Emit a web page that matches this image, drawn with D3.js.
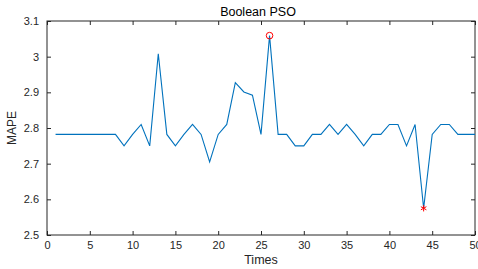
<!DOCTYPE html>
<html>
<head>
<meta charset="utf-8">
<script src="https://cdn.jsdelivr.net/npm/d3@7"></script>
<style>
  body { margin: 0; background: #fff; }
  svg { display: block; font-family: "Liberation Sans", Arial, sans-serif; }
</style>
</head>
<body>
<svg id="chart"></svg>
<script>
// data
const times = d3.range(1, 51)
const mape = [
  2.782, 2.782, 2.782, 2.782, 2.782, 2.782, 2.782, 2.782, 2.75, 2.782,
  2.81, 2.75, 3.008, 2.782, 2.75, 2.782, 2.81, 2.782, 2.705, 2.782,
  2.81, 2.927, 2.901, 2.892, 2.782, 3.059, 2.782, 2.782, 2.75, 2.75,
  2.782, 2.782, 2.81, 2.782, 2.81, 2.782, 2.75, 2.782, 2.782, 2.81,
  2.81, 2.75, 2.81, 2.575, 2.782, 2.81, 2.81, 2.782, 2.782, 2.782
]
const xTicks = [0, 5, 10, 15, 20, 25, 30, 35, 40, 45, 50]
const yTicks = [2.5, 2.6, 2.7, 2.8, 2.9, 3.0, 3.1]

const width = 478
const height = 269
const margin = { top: 21, right: 3, bottom: 34, left: 47 }
const axisColor = '#262626'

const svg = d3.select('#chart')
    .attr('width', width)
    .attr('height', height)

// scales
const x = d3.scaleLinear().domain([0, 50]).range([margin.left, width - margin.right])
const y = d3.scaleLinear().domain([2.5, 3.1]).range([height - margin.bottom, margin.top])

// axes, MATLAB style: ticks pointing in on all four sides
const styleAxis = g => {
    g.select('.domain').remove()
    g.selectAll('line').attr('stroke', axisColor)
    g.selectAll('text').attr('fill', axisColor).style('font-size', '11px')
}

svg.append('g')
    .attr('transform', `translate(0,${y(2.5)})`)
    .call(d3.axisBottom(x).tickValues(xTicks).tickFormat(d3.format('d')).tickSizeInner(-4).tickPadding(6))
    .call(styleAxis)

svg.append('g')
    .attr('transform', `translate(0,${y(3.1)})`)
    .call(d3.axisTop(x).tickValues(xTicks).tickFormat('').tickSizeInner(-4))
    .call(styleAxis)

svg.append('g')
    .attr('transform', `translate(${x(0)},0)`)
    .call(d3.axisLeft(y).tickValues(yTicks).tickFormat(d => d === 3 ? '3' : d3.format('.1f')(d)).tickSizeInner(-4).tickPadding(8))
    .call(styleAxis)

svg.append('g')
    .attr('transform', `translate(${x(50)},0)`)
    .call(d3.axisRight(y).tickValues(yTicks).tickFormat('').tickSizeInner(-4))
    .call(styleAxis)

// box
svg.append('rect')
    .attr('x', x(0))
    .attr('y', y(3.1))
    .attr('width', x(50) - x(0))
    .attr('height', y(2.5) - y(3.1))
    .attr('fill', 'none')
    .attr('stroke', axisColor)
    .attr('stroke-width', 1)

// line
const line = d3.line()
    .x((d, i) => x(times[i]))
    .y(d => y(d))

svg.append('path')
    .datum(mape)
    .attr('d', line)
    .attr('fill', 'none')
    .attr('stroke', '#0072BD')
    .attr('stroke-width', 1.1)

// max and min markers
const iMax = d3.maxIndex(mape)
const iMin = d3.minIndex(mape)

svg.append('circle')
    .attr('cx', x(times[iMax]))
    .attr('cy', y(mape[iMax]))
    .attr('r', 3.3)
    .attr('fill', 'none')
    .attr('stroke', '#FF0000')
    .attr('stroke-width', 1)

svg.append('path')
    .attr('transform', `translate(${x(times[iMin])},${y(mape[iMin])})`)
    .attr('d', d3.symbol().type(d3.symbolAsterisk).size(28))
    .attr('fill', 'none')
    .attr('stroke', '#FF0000')
    .attr('stroke-width', 1)

// labels
svg.append('text')
    .attr('x', (x(0) + x(50)) / 2 - 3)
    .attr('y', 16)
    .attr('text-anchor', 'middle')
    .attr('fill', '#000')
    .style('font-size', '12.5px')
    .text('Boolean PSO')

svg.append('text')
    .attr('x', (x(0) + x(50)) / 2)
    .attr('y', 264)
    .attr('text-anchor', 'middle')
    .attr('fill', axisColor)
    .style('font-size', '12.5px')
    .text('Times')

svg.append('text')
    .attr('transform', `translate(16,${(y(2.5) + y(3.1)) / 2}) rotate(-90)`)
    .attr('text-anchor', 'middle')
    .attr('fill', axisColor)
    .style('font-size', '12px')
    .text('MAPE')
</script>
</body>
</html>
